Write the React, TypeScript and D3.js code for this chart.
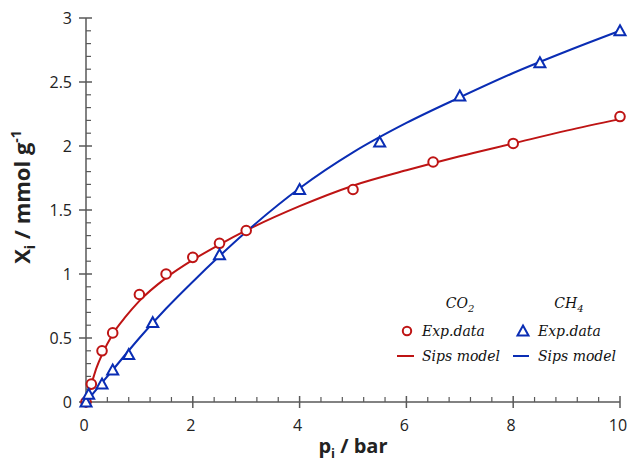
import React from "react";
import * as d3 from "d3";

const W = 632;
const H = 465;
const margin = { left: 86, right: 12, top: 18, bottom: 63 };

// experimental points
const co2P = [0, 0.1, 0.3, 0.5, 1.0, 1.5, 2.0, 2.5, 3.0, 5.0, 6.5, 8.0, 10];
const co2Q = [0, 0.14, 0.4, 0.54, 0.84, 1.0, 1.13, 1.24, 1.34, 1.66, 1.875, 2.02, 2.23];
const ch4P = [0, 0.05, 0.3, 0.5, 0.8, 1.25, 2.5, 4.0, 5.5, 7.0, 8.5, 10];
const ch4Q = [0, 0.06, 0.14, 0.25, 0.37, 0.62, 1.15, 1.66, 2.03, 2.39, 2.65, 2.9];

// Sips model curves
const co2FitP = [0, 0.03, 0.1, 0.2, 0.3, 0.5, 0.75, 1, 1.5, 2, 2.5, 3, 4, 5, 6, 7, 8, 9, 10];
const co2FitQ = [0, 0.05, 0.14, 0.27, 0.37, 0.53, 0.67, 0.79, 0.97, 1.11, 1.23, 1.34, 1.53, 1.69, 1.81, 1.92, 2.02, 2.12, 2.21];
const ch4FitP = [0, 0.5, 1, 1.5, 2, 2.5, 3, 4, 5, 6, 7, 8, 9, 10];
const ch4FitQ = [0, 0.25, 0.5, 0.73, 0.94, 1.14, 1.33, 1.67, 1.95, 2.18, 2.38, 2.57, 2.74, 2.9];

const xTicks = [0, 2, 4, 6, 8, 10];
const yTicks = [0, 0.5, 1, 1.5, 2, 2.5, 3];

const RED = "#BE1414";
const BLUE = "#0A2DB4";
const AXIS = "#595959";

const zip = (a: number[], b: number[]) => a.map((v, i) => [v, b[i]] as [number, number]);

function Tri({ cx, cy }: { cx: number; cy: number }) {
  const s = 5.5;
  return (
    <path
      d={`M${cx},${cy - s} L${cx + s},${cy + s * 0.8} L${cx - s},${cy + s * 0.8} Z`}
      fill="white"
      stroke={BLUE}
      strokeWidth={2}
    />
  );
}

export default function App() {
  const x = d3.scaleLinear().domain([0, 10]).range([margin.left, W - margin.right]);
  const y = d3.scaleLinear().domain([0, 3]).range([H - margin.bottom, margin.top]);
  const line = d3
    .line<[number, number]>()
    .x((d) => x(d[0]))
    .y((d) => y(d[1]))
    .curve(d3.curveMonotoneX);

  const y0 = y(0);
  const xMinor = d3.range(0, 10.001, 0.4).filter((v) => Math.abs(v / 2 - Math.round(v / 2)) > 0.01);
  const yMinor = d3.range(0, 3.001, 0.1).filter((v) => Math.abs(v / 0.5 - Math.round(v / 0.5)) > 0.01);
  const legFont = "'DejaVu Serif', serif";

  return (
    <svg width={W} height={H} style={{ position: "absolute", left: 0, top: 0, background: "white" }}>
      {/* axes */}
      <line x1={x(0)} x2={x(10)} y1={y0} y2={y0} stroke={AXIS} strokeWidth={1.5} />
      <line x1={x(0)} x2={x(0)} y1={y(0)} y2={y(3)} stroke={AXIS} strokeWidth={1.5} />
      {xTicks.map((t) => (
        <g key={"xt" + t}>
          <line x1={x(t)} x2={x(t)} y1={y0 - 6} y2={y0 + 6} stroke={AXIS} strokeWidth={1.5} />
          <text x={x(t) - 2} y={431} textAnchor="middle" fontFamily="'Open Sans', sans-serif" fontSize={16} fill="#222">
            {t}
          </text>
        </g>
      ))}
      {xMinor.map((t) => (
        <line key={"xm" + t} x1={x(t)} x2={x(t)} y1={y0 - 5} y2={y0} stroke={AXIS} strokeWidth={1.2} />
      ))}
      {yTicks.map((t) => (
        <g key={"yt" + t}>
          <line x1={x(0) - 7} x2={x(0) + 6} y1={y(t)} y2={y(t)} stroke={AXIS} strokeWidth={1.5} />
          <text x={72} y={y(t) + 6} textAnchor="end" fontFamily="'Open Sans', sans-serif" fontSize={16} fill="#222">
            {t}
          </text>
        </g>
      ))}
      {yMinor.map((t) => (
        <line key={"ym" + t} x1={x(0)} x2={x(0) + 5} y1={y(t)} y2={y(t)} stroke={AXIS} strokeWidth={1.2} />
      ))}

      {/* axis titles */}
      <text x={353} y={453} textAnchor="middle" fontFamily="'Open Sans', sans-serif" fontWeight="bold" fontSize={20} fill="#222">
        p<tspan fontSize={13} dy={5}>i</tspan>
        <tspan dy={-5}> / bar</tspan>
      </text>
      <text
        transform={`translate(30,197) rotate(-90)`}
        textAnchor="middle"
        fontFamily="'Open Sans', sans-serif"
        fontWeight="bold"
        fontSize={22}
        fill="#222"
      >
        X<tspan fontSize={14} dy={5}>i</tspan>
        <tspan dy={-5}> / mmol g</tspan>
        <tspan fontSize={14} dy={-9}>-1</tspan>
      </text>

      {/* model curves */}
      <path d={line(zip(co2FitP, co2FitQ)) || ""} fill="none" stroke={RED} strokeWidth={2} />
      <path d={line(zip(ch4FitP, ch4FitQ)) || ""} fill="none" stroke={BLUE} strokeWidth={2} />

      {/* experimental points */}
      {co2P.map((p, i) => (
        <circle key={"c" + i} cx={x(p)} cy={y(co2Q[i])} r={4.8} fill="white" stroke={RED} strokeWidth={2} />
      ))}
      {ch4P.map((p, i) => (
        <Tri key={"t" + i} cx={x(p)} cy={y(ch4Q[i])} />
      ))}

      {/* legend */}
      <g fontFamily={legFont} fontStyle="italic" fontSize={14} fill="#111">
        <text x={460} y={308} textAnchor="middle">
          CO<tspan fontSize={10} dy={4}>2</tspan>
        </text>
        <text x={569} y={308} textAnchor="middle">
          CH<tspan fontSize={10} dy={4}>4</tspan>
        </text>
        <circle cx={407} cy={331} r={4.2} fill="white" stroke={RED} strokeWidth={2} />
        <text x={422} y={336}>Exp.data</text>
        <line x1={397} x2={414} y1={356} y2={356} stroke={RED} strokeWidth={2} />
        <text x={422} y={361}>Sips model</text>
        <Tri cx={523} cy={331} />
        <text x={538} y={336}>Exp.data</text>
        <line x1={513} x2={529} y1={356} y2={356} stroke={BLUE} strokeWidth={2} />
        <text x={538} y={361}>Sips model</text>
      </g>
    </svg>
  );
}
